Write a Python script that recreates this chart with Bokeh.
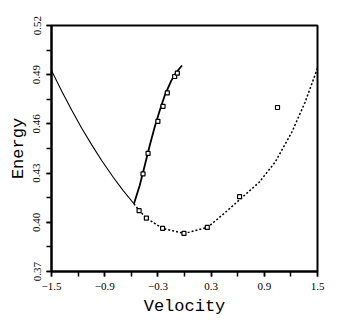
from bokeh.plotting import figure
from bokeh.models import Range1d, FixedTicker
from bokeh.embed import file_html
from bokeh.resources import INLINE

# Left solid branch
left_v = [-1.5, -1.384, -1.271, -1.159, -1.046, -0.934, -0.802, -0.689, -0.57]
left_e = [0.4925, 0.4799, 0.4683, 0.4574, 0.4472, 0.4377, 0.4273, 0.4192, 0.4113]

# Steep solid branch
steep_v = [-0.57, -0.506, -0.449, -0.393, -0.337, -0.280, -0.224, -0.149, -0.092, -0.028]
steep_e = [0.4113, 0.4223, 0.4345, 0.4467, 0.4579, 0.468, 0.4772, 0.4864, 0.4915, 0.4956]

# Dashed branch
dash_v = [-0.57, -0.51, -0.43, -0.25, 0.0, 0.26, 0.46, 0.63, 0.84, 1.02, 1.21, 1.36, 1.5]
dash_e = [0.4113, 0.4071, 0.4026, 0.3963, 0.3932, 0.3969, 0.406, 0.4142, 0.4243, 0.4365, 0.4549, 0.4732, 0.494]

# Markers on steep branch
m1_v = [-0.468, -0.411, -0.30, -0.242, -0.194, -0.111, -0.081]
m1_e = [0.4295, 0.442, 0.4616, 0.4707, 0.4789, 0.4889, 0.4909]

# Markers on dashed branch
m2_v = [-0.512, -0.430, -0.247, -0.006, 0.257, 0.621, 1.049]
m2_e = [0.4071, 0.4026, 0.3963, 0.3932, 0.3969, 0.4156, 0.470]

x_ticks = [-1.5, -0.9, -0.3, 0.3, 0.9, 1.5]
x_minor = [-1.5, -1.2, -0.9, -0.6, -0.3, 0.0, 0.3, 0.6, 0.9, 1.2, 1.5]
x_labels = ["\u22121.5", "\u22120.9", "\u22120.3", "0.3", "0.9", "1.5"]
y_ticks = [0.37, 0.40, 0.43, 0.46, 0.49, 0.52]
y_minor = [0.37, 0.385, 0.40, 0.415, 0.43, 0.445, 0.46, 0.475, 0.49, 0.505, 0.52]
y_labels = ["0.37", "0.40", "0.43", "0.46", "0.49", "0.52"]

p = figure(width=341, height=325, output_backend="svg", toolbar_location=None,
           x_range=Range1d(-1.5, 1.5), y_range=Range1d(0.37, 0.52),
           min_border_left=51, min_border_right=24, min_border_top=25, min_border_bottom=54)
p.grid.visible = False
p.background_fill_color = "white"
p.border_fill_color = "white"
p.outline_line_color = "black"
p.outline_line_width = 2
p.outline_line_alpha = 1

p.line(left_v, left_e, line_color="black", line_width=1.1)
p.line(steep_v, steep_e, line_color="black", line_width=1.8)
p.line(dash_v, dash_e, line_color="black", line_width=1.5, line_dash="2 2")
p.scatter(m1_v, m1_e, marker="square", size=4, line_color="black", fill_color="white", line_width=1.2)
p.scatter(m2_v, m2_e, marker="square", size=4, line_color="black", fill_color="white", line_width=1.2)

p.xaxis.ticker = FixedTicker(ticks=x_ticks, minor_ticks=x_minor)
p.yaxis.ticker = FixedTicker(ticks=y_ticks, minor_ticks=y_minor)
p.xaxis.major_label_overrides = {t: l for t, l in zip(x_ticks, x_labels)}
p.yaxis.major_label_overrides = {t: l for t, l in zip(y_ticks, y_labels)}
p.yaxis.major_label_orientation = "vertical"

for ax in (p.xaxis, p.yaxis):
    ax.axis_line_width = 2
    ax.axis_line_color = "black"
    ax.major_tick_line_width = 1.5
    ax.minor_tick_line_width = 1.5
    ax.major_tick_out = 5
    ax.major_tick_in = 0
    ax.minor_tick_out = 5
    ax.minor_tick_in = 0
    ax.major_label_text_font = "Liberation Serif"
    ax.major_label_text_font_size = "11px"
    ax.major_label_text_color = "black"
    ax.axis_label_text_font = "Liberation Mono"
    ax.axis_label_text_font_size = "17px"
    ax.axis_label_text_font_style = "normal"
    ax.axis_label_text_color = "black"

p.xaxis.axis_label = "Velocity"
p.yaxis.axis_label = "Energy"
p.xaxis.major_label_standoff = 6
p.xaxis.axis_label_standoff = 4
p.yaxis.major_label_standoff = 6
p.yaxis.axis_label_standoff = 3

open("out.html", "w").write(file_html(p, INLINE))
